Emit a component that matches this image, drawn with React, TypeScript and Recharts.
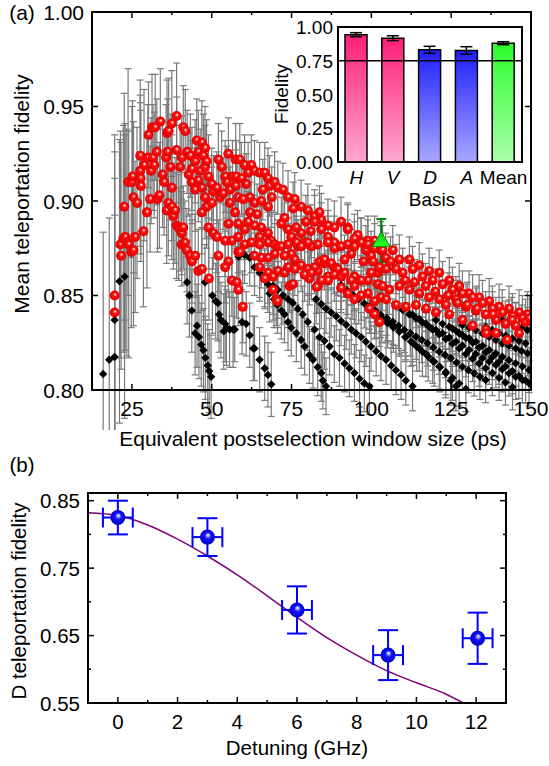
import React from 'react';
import {
  ScatterChart,
  Scatter,
  XAxis,
  YAxis,
  ErrorBar,
  BarChart,
  Bar,
  Cell,
  ReferenceLine,
  ComposedChart,
  Line,
} from 'recharts';

const FONT = '"Liberation Sans", Arial, sans-serif';

// ---- panel (a): red spheres, grouped by window size, with the error read for each group
const redFar = [[19.6, 0.850], [19.6, 0.841]];
const redA = [[21.4, 0.877], [21.6, 0.871], [22.3, 0.880], [22.6, 0.897], [22.9, 0.881], [23.4, 0.878], [23.8, 0.910], [24.0, 0.877]];
const redB = [
  [24.8, 0.873], [25.0, 0.910], [25.2, 0.913], [25.5, 0.902], [25.5, 0.874], [26.0, 0.881], [26.6, 0.899],
  [27.6, 0.924], [27.6, 0.916], [27.7, 0.912], [27.8, 0.908], [28.6, 0.884], [28.8, 0.919], [29.7, 0.894],
];
const redC = [
  [30.0, 0.923], [30.2, 0.935], [30.7, 0.901], [31.0, 0.916], [31.3, 0.939], [31.6, 0.923], [32.0, 0.919],
  [32.3, 0.939], [32.8, 0.926], [33.0, 0.901], [33.6, 0.903], [33.9, 0.942], [34.6, 0.914], [35.1, 0.910],
  [35.7, 0.923], [35.9, 0.895], [36.0, 0.936], [36.2, 0.926], [36.4, 0.899], [36.5, 0.937], [37.0, 0.918],
  [37.5, 0.907], [37.5, 0.941], [37.5, 0.897], [38.0, 0.892], [38.5, 0.895], [39.0, 0.945], [39.0, 0.887],
  [39.0, 0.927], [39.6, 0.886],
];
const redD = [
  [40.1, 0.885], [40.1, 0.918], [40.6, 0.923], [40.6, 0.883], [40.6, 0.877], [41.1, 0.939], [41.1, 0.886],
  [41.6, 0.878], [41.7, 0.937], [42.2, 0.874], [42.3, 0.926], [42.8, 0.914], [43.2, 0.871], [43.3, 0.924],
  [43.8, 0.917], [43.8, 0.910], [43.8, 0.868], [44.8, 0.906], [44.8, 0.921], [44.8, 0.871], [45.3, 0.932],
  [45.8, 0.926], [45.8, 0.911], [45.8, 0.863], [46.4, 0.916], [46.9, 0.931], [46.9, 0.907], [46.9, 0.894],
  [46.9, 0.864], [47.4, 0.924], [47.9, 0.928], [47.9, 0.902], [47.9, 0.918], [48.4, 0.921], [48.4, 0.897],
  [49.0, 0.913], [49.0, 0.886], [49.1, 0.859],
];
const redE = [
  [50.0, 0.909], [50.0, 0.899], [50.5, 0.905], [50.5, 0.883], [51.6, 0.881], [51.6, 0.907], [52.1, 0.922],
  [52.1, 0.871], [52.6, 0.902], [53.1, 0.918], [53.6, 0.904], [54.2, 0.913], [54.2, 0.879], [54.2, 0.865],
  [54.7, 0.910], [55.2, 0.925], [55.2, 0.888], [55.2, 0.868], [55.7, 0.906], [55.7, 0.899], [56.3, 0.879],
  [56.3, 0.858], [56.5, 0.913], [57.3, 0.894], [57.5, 0.922], [57.5, 0.908], [57.7, 0.913], [57.8, 0.857],
  [58.2, 0.902], [58.3, 0.888], [58.3, 0.881], [58.3, 0.853], [58.3, 0.873], [58.8, 0.922], [59.3, 0.912],
  [59.7, 0.844], [59.8, 0.901], [58.8, 0.873],
];
const redF = [
  [60.3, 0.919], [61.4, 0.915], [60.8, 0.909], [62.4, 0.919], [63.4, 0.916], [65.0, 0.915], [66.6, 0.915],
  [67.6, 0.912], [68.1, 0.908], [69.7, 0.910], [61.9, 0.902], [63.4, 0.899], [65.5, 0.900], [67.6, 0.897],
  [61.4, 0.889], [60.3, 0.885], [63.4, 0.887], [65.5, 0.886], [65.0, 0.881], [67.6, 0.883], [68.6, 0.879],
  [69.7, 0.872], [60.3, 0.877], [62.4, 0.878], [65.0, 0.877], [67.6, 0.878], [69.7, 0.877], [63.4, 0.871],
  [65.5, 0.870], [67.6, 0.870], [65.0, 0.865], [67.6, 0.862], [66.6, 0.859], [69.2, 0.860], [69.2, 0.853],
  [64.2, 0.893], [62.0, 0.894], [66.0, 0.906], [68.8, 0.902],
];
const redG = [
  [70.7, 0.907], [72.3, 0.906], [73.9, 0.902], [76.0, 0.901], [78.0, 0.897], [80.1, 0.895], [82.2, 0.892],
  [84.3, 0.890], [86.4, 0.887], [88.4, 0.886], [70.7, 0.876], [71.8, 0.888], [72.8, 0.891], [73.9, 0.885],
  [74.9, 0.881], [76.5, 0.886], [78.0, 0.883], [79.1, 0.878], [81.2, 0.876], [77.0, 0.876], [74.9, 0.872],
  [72.8, 0.871], [82.2, 0.889], [84.3, 0.885], [86.4, 0.881], [88.4, 0.878], [85.3, 0.867], [83.2, 0.863],
  [86.4, 0.860], [88.4, 0.865], [71.8, 0.876], [73.9, 0.877], [76.5, 0.878], [78.0, 0.876], [80.1, 0.878],
  [83.2, 0.877], [86.4, 0.878], [88.4, 0.875], [70.7, 0.863], [72.8, 0.862], [73.9, 0.865], [76.0, 0.869],
  [78.0, 0.866], [80.1, 0.864], [82.2, 0.865], [83.8, 0.868], [85.3, 0.869], [87.4, 0.867], [89.5, 0.864],
  [88.4, 0.861], [86.4, 0.858], [83.2, 0.855], [80.6, 0.859], [79.1, 0.861], [76.0, 0.864], [74.4, 0.855],
  [75.4, 0.856], [70.2, 0.848], [84.3, 0.858], [81.2, 0.862], [82.8, 0.8545], [70.6, 0.847], [83.75, 0.894],
  [75.5, 0.896], [79.5, 0.889], [81.0, 0.884],
];
const redH = [
  [90.5, 0.889], [92.6, 0.886], [95.7, 0.882], [98.9, 0.879], [92.6, 0.885], [94.7, 0.880], [96.8, 0.878],
  [98.3, 0.874], [99.9, 0.871], [93.7, 0.872], [91.6, 0.869], [90.5, 0.860], [94.7, 0.860], [98.9, 0.858],
  [102.0, 0.862], [103.0, 0.874], [101.0, 0.879], [90.5, 0.876], [92.6, 0.877], [94.7, 0.876], [96.8, 0.878],
  [98.9, 0.877], [101.0, 0.875], [103.0, 0.876], [91.6, 0.862], [93.7, 0.858], [90.5, 0.854], [92.6, 0.851],
  [94.7, 0.848], [96.8, 0.850], [98.9, 0.851], [101.0, 0.847], [103.0, 0.849], [99.4, 0.843], [101.0, 0.840],
  [102.5, 0.836], [94.7, 0.855], [96.8, 0.858], [99.9, 0.862], [102.0, 0.856], [103.0, 0.864], [103.5, 0.874],
  [106.7, 0.874], [108.75, 0.869], [102.5, 0.865], [104.6, 0.864], [107.7, 0.864], [109.8, 0.862],
  [103.5, 0.855], [105.6, 0.853], [108.75, 0.855], [104.6, 0.848], [107.7, 0.845], [104.5, 0.870],
  [106.0, 0.868], [97.5, 0.868], [100.5, 0.868],
];
const redI = [
  [111.9, 0.869], [115.0, 0.866], [118.1, 0.863], [121.25, 0.862], [124.4, 0.858], [127.5, 0.855],
  [130.6, 0.851], [133.75, 0.849], [136.9, 0.847], [140.0, 0.844], [143.1, 0.843], [146.25, 0.841],
  [148.9, 0.840], [112.9, 0.864], [116.0, 0.860], [119.2, 0.858], [122.3, 0.856], [125.4, 0.853],
  [128.5, 0.851], [131.7, 0.849], [134.8, 0.846], [137.9, 0.843], [141.0, 0.841], [144.2, 0.839],
  [147.3, 0.838], [111.9, 0.853], [115.0, 0.851], [118.1, 0.849], [121.25, 0.848], [123.3, 0.845],
  [126.5, 0.848], [129.6, 0.844], [132.7, 0.842], [135.8, 0.840], [139.0, 0.837], [142.0, 0.835],
  [145.2, 0.834], [148.3, 0.836], [110.8, 0.844], [114.0, 0.845], [117.1, 0.843], [120.2, 0.841],
  [124.4, 0.840], [128.5, 0.837], [131.7, 0.834], [135.8, 0.832], [139.0, 0.830], [146.25, 0.830],
  [142.5, 0.8265], [136.0, 0.830], [113.5, 0.857], [117.0, 0.855], [120.0, 0.852], [124.0, 0.850],
  [127.0, 0.846], [130.0, 0.845], [133.0, 0.843], [138.0, 0.840], [144.0, 0.837], [149.5, 0.838],
  [110.5, 0.858],
];
const redGroups: [number[][], number][] = [
  [redFar, 0.085], [redA, 0.06], [redB, 0.04], [redC, 0.028], [redD, 0.022],
  [redE, 0.019], [redF, 0.016], [redG, 0.014], [redH, 0.013], [redI, 0.012],
];

// ---- panel (a): black diamonds, one array per diagonal run
const blk1 = [[16.0, 0.8085], [17.9, 0.816], [19.6, 0.8175], [19.6, 0.837], [21.1, 0.8575], [22.7, 0.860]];
const blk2 = [[42.3, 0.857], [43.0, 0.850], [43.75, 0.842], [44.8, 0.830], [45.4, 0.834], [46.0, 0.828], [46.7, 0.824], [47.4, 0.821], [48.0, 0.817], [48.75, 0.813], [49.2, 0.810], [49.8, 0.807]];
const blk3 = [[47.9, 0.857], [50.2, 0.850], [51.25, 0.847], [51.9, 0.846], [52.3, 0.840], [52.9, 0.837], [53.75, 0.831], [54.2, 0.835], [54.6, 0.833], [55.6, 0.832], [56.7, 0.832]];
const blk4 = [[57.2, 0.832], [59.5, 0.836], [60.8, 0.835], [61.9, 0.829], [63.4, 0.822], [63.0, 0.822], [65.0, 0.816], [66.6, 0.8115], [67.6, 0.808], [68.65, 0.803]];
const blk5 = [
  [58.4, 0.8705], [60.3, 0.8714], [61.9, 0.870], [63.4, 0.865], [65.0, 0.862], [66.6, 0.859], [67.6, 0.856],
  [69.2, 0.855], [70.7, 0.853], [72.3, 0.850], [73.9, 0.848], [75.4, 0.846], [77.0, 0.843], [78.5, 0.840],
  [80.1, 0.836], [82.2, 0.832], [83.75, 0.828], [85.3, 0.826], [86.9, 0.823], [88.4, 0.819], [90.0, 0.817],
  [91.6, 0.814], [93.1, 0.8115], [94.7, 0.809], [96.3, 0.806], [97.8, 0.8035], [99.4, 0.802],
];
const blk6 = [
  [68.1, 0.851], [69.5, 0.848], [70.6, 0.845], [71.8, 0.842], [72.8, 0.840], [73.9, 0.836], [74.9, 0.833],
  [76.5, 0.830], [78.0, 0.8265], [79.1, 0.823], [80.6, 0.8185], [81.7, 0.816], [83.2, 0.812], [84.3, 0.809],
  [84.8, 0.805], [85.8, 0.802],
];
const blk7 = [
  [82.7, 0.848], [84.3, 0.8455], [85.8, 0.843], [87.4, 0.841], [89.0, 0.839], [90.5, 0.8365], [92.1, 0.8345],
  [93.7, 0.832], [95.2, 0.830], [96.8, 0.828], [98.3, 0.8255], [99.9, 0.823], [101.5, 0.8205], [103.0, 0.818],
  [104.6, 0.816], [106.2, 0.813], [107.7, 0.8105], [109.3, 0.808], [110.8, 0.805], [112.9, 0.802],
];
const blk8 = [
  [90.5, 0.8556], [92.3, 0.853], [94.2, 0.8503], [96.0, 0.848], [97.8, 0.8458], [99.6, 0.843], [101.5, 0.8406],
  [103.3, 0.838], [105.1, 0.8353], [106.9, 0.833], [108.75, 0.8309], [110.6, 0.828], [112.4, 0.8256],
  [114.2, 0.823], [116.0, 0.8203], [117.8, 0.8177], [119.7, 0.815], [121.5, 0.812], [123.3, 0.8088],
  [124.9, 0.805], [126.5, 0.802],
];
const blk9 = [
  [99.4, 0.8441], [101.2, 0.842], [103.0, 0.8397], [104.9, 0.838], [106.7, 0.8362], [108.5, 0.834],
  [110.3, 0.8318], [112.2, 0.830], [114.0, 0.8282], [115.8, 0.8265], [117.6, 0.8247], [119.4, 0.8225],
  [121.25, 0.8203], [123.1, 0.8185], [124.9, 0.8168], [126.7, 0.8145], [128.5, 0.8123], [130.4, 0.8105],
  [132.2, 0.8088], [134.0, 0.807], [135.8, 0.8053],
];
const blk10 = [
  [109.8, 0.8423], [111.9, 0.840], [114.0, 0.8379], [116.0, 0.8357], [118.1, 0.8335], [120.2, 0.8318],
  [122.3, 0.830], [124.4, 0.8278], [126.5, 0.8256], [128.5, 0.8234], [130.6, 0.8212], [132.7, 0.819],
  [134.8, 0.8168], [136.9, 0.815], [139.0, 0.8132], [141.0, 0.811], [143.1, 0.8088], [145.2, 0.807],
  [147.3, 0.8053], [149.4, 0.8035],
];
const blk11 = [
  [120.2, 0.837], [122.3, 0.835], [124.4, 0.8335], [126.5, 0.8313], [128.5, 0.8291], [130.6, 0.8274],
  [132.7, 0.8256], [134.8, 0.8234], [136.9, 0.8212], [139.0, 0.8194], [141.0, 0.8176], [143.1, 0.8158],
  [145.2, 0.8141], [147.3, 0.8124], [149.4, 0.8106],
];
const blk12 = [
  [128.5, 0.8344], [130.6, 0.833], [132.7, 0.8317], [134.8, 0.830], [136.9, 0.8282], [139.0, 0.8265],
  [141.0, 0.8247], [143.1, 0.8234], [145.2, 0.822], [147.0, 0.8207], [148.9, 0.8194],
];
const blk13 = [[135.8, 0.8335], [137.9, 0.8318], [140.0, 0.830], [142.1, 0.8287], [144.2, 0.8273], [146.2, 0.826], [148.3, 0.8247]];
const blk14 = [[141.0, 0.837], [143.1, 0.8357], [145.2, 0.8344], [147.0, 0.833], [148.9, 0.8317]];
const blk15 = [
  [104.6, 0.837], [106.7, 0.834], [108.75, 0.831], [110.8, 0.828], [112.9, 0.825], [115.0, 0.822],
  [117.1, 0.819], [119.2, 0.8155], [121.25, 0.8125], [123.3, 0.8095], [125.4, 0.8065], [127.5, 0.8035],
  [129.6, 0.8005],
];
const blk16 = [
  [112.9, 0.8398], [115.0, 0.8375], [117.1, 0.835], [119.2, 0.832], [121.25, 0.8295], [123.3, 0.827],
  [125.4, 0.8245], [127.5, 0.822], [129.6, 0.819], [131.7, 0.8165], [133.75, 0.814], [135.8, 0.8115],
  [137.9, 0.809], [140.0, 0.8065], [142.0, 0.804], [144.2, 0.8015],
];
const blk17 = [
  [125.4, 0.8325], [127.5, 0.830], [129.6, 0.8275], [131.7, 0.825], [133.75, 0.8225], [135.8, 0.820],
  [137.9, 0.8175], [140.0, 0.815], [142.0, 0.8125], [144.2, 0.810], [146.2, 0.8075], [148.3, 0.805],
];
const blkGroups: [number[][], number][] = [
  [blk1, 0.075], [blk2, 0.022], [blk3, 0.02], [blk4, 0.017], [blk5, 0.015], [blk6, 0.015],
  [blk7, 0.013], [blk8, 0.013], [blk9, 0.012], [blk10, 0.012], [blk11, 0.012], [blk12, 0.012],
  [blk13, 0.012], [blk14, 0.012], [blk15, 0.012], [blk16, 0.012], [blk17, 0.012],
];

// green triangle (measured point)
const greenPoint = [{ x: 103.1, y: 0.879, err: 0.0115 }];

const xTicksA = [25, 37.5, 50, 62.5, 75, 87.5, 100, 112.5, 125, 137.5, 150];
const yTicksA = [0.8, 0.85, 0.9, 0.95, 1.0];

// ---- inset
const basisLabels = ['H', 'V', 'D', 'A', 'Mean'];
const basisFidelity = [0.943, 0.917, 0.831, 0.826, 0.88];
const basisErr = [0.015, 0.018, 0.026, 0.028, 0.011];
const basisFill = ['url(#gPink)', 'url(#gPink)', 'url(#gBlue)', 'url(#gBlue)', 'url(#gGreen)'];
const insetTicks = [0, 0.25, 0.5, 0.75, 1.0];

// ---- panel (b)
const detuning = [0, 3, 6, 9.05, 12.05];
const dFidelity = [0.825, 0.796, 0.688, 0.621, 0.646];
const dFidErr = [0.025, 0.028, 0.035, 0.037, 0.038];
const detErr = [0.5, 0.5, 0.5, 0.5, 0.5];
const fitX = [-1, 0, 1, 2, 3, 4, 5, 6, 7, 8, 9, 10, 11, 11.55];
const fitY = [0.832, 0.828, 0.814, 0.793, 0.768, 0.74, 0.709, 0.677, 0.647, 0.621, 0.598, 0.58, 0.563, 0.5505];
const xTicksB = [-1, 0, 1, 2, 3, 4, 5, 6, 7, 8, 9, 10, 11, 12, 13];
const yTicksB = [0.55, 0.6, 0.65, 0.7, 0.75, 0.8, 0.85];

const toRows = (groups: [number[][], number][]) =>
  groups.flatMap(([pts, err]) => pts.map(([x, y]) => ({ x, y, err })));

const redRows = toRows(redGroups);
const blkRows = toRows(blkGroups);
const errRows = [...blkRows, ...redRows];
const insetRows = basisLabels.map((b, i) => ({ basis: b, fid: basisFidelity[i], err: basisErr[i] }));
const bRows = detuning.map((x, i) => ({ x, y: dFidelity[i], yerr: dFidErr[i], xerr: detErr[i] }));
const fitRows = fitX.map((x, i) => ({ x, y: fitY[i] }));

// plot box of panel (a) (chart svg sits at page 0,0)
const A = { left: 92, right: 531, top: 12, bottom: 390 };
// plot box of panel (b) in its own svg (svg placed at page top 470)
const B_TOP = 470;
const B = { left: 88, right: 506, top: 23, bottom: 233 };

const txtA = { fontFamily: FONT, fontSize: 21, fill: '#000' };
const txtB = { fontFamily: FONT, fontSize: 20.5, fill: '#000' };
const txtI = { fontFamily: FONT, fontSize: 19, fill: '#000' };

const XTickA = (p: any) => {
  const v = p.payload.value;
  const major = v % 25 === 0;
  const len = major ? 6 : 3;
  return (
    <g>
      <line x1={p.x} x2={p.x} y1={A.bottom} y2={A.bottom - len} stroke="#000" strokeWidth={1.5} />
      <line x1={p.x} x2={p.x} y1={A.top} y2={A.top + len} stroke="#000" strokeWidth={1.5} />
      {major && (
        <text x={p.x} y={A.bottom + 26} textAnchor="middle" {...txtA}>
          {v}
        </text>
      )}
    </g>
  );
};

const YTickA = (p: any) => {
  const v = p.payload.value;
  return (
    <g>
      <line x1={A.left} x2={A.left + 6} y1={p.y} y2={p.y} stroke="#000" strokeWidth={1.5} />
      <line x1={A.right} x2={A.right - 6} y1={p.y} y2={p.y} stroke="#000" strokeWidth={1.5} />
      <text x={A.left - 8} y={p.y + 7.5} textAnchor="end" {...txtA}>
        {v.toFixed(2)}
      </text>
    </g>
  );
};

const XTickB = (p: any) => {
  const v = p.payload.value;
  const major = v % 2 === 0;
  const len = major ? 6 : 3;
  return (
    <g>
      <line x1={p.x} x2={p.x} y1={B.bottom} y2={B.bottom - len} stroke="#000" strokeWidth={1.5} />
      <line x1={p.x} x2={p.x} y1={B.top} y2={B.top + len} stroke="#000" strokeWidth={1.5} />
      {major && (
        <text x={p.x} y={B.bottom + 26} textAnchor="middle" {...txtB}>
          {v}
        </text>
      )}
    </g>
  );
};

const YTickB = (p: any) => {
  const v = p.payload.value;
  const major = Math.round(v * 100) % 10 === 5;
  const len = major ? 6 : 3;
  return (
    <g>
      <line x1={B.left} x2={B.left + len} y1={p.y} y2={p.y} stroke="#000" strokeWidth={1.5} />
      <line x1={B.right} x2={B.right - len} y1={p.y} y2={p.y} stroke="#000" strokeWidth={1.5} />
      {major && (
        <text x={B.left - 8} y={p.y + 7.5} textAnchor="end" {...txtB}>
          {v.toFixed(2)}
        </text>
      )}
    </g>
  );
};

const InsetXTick = (p: any) => {
  const v = p.payload.value;
  return (
    <text x={p.x} y={p.y + 22} textAnchor="middle" {...txtI} fontStyle={v === 'Mean' ? 'normal' : 'italic'}>
      {v}
    </text>
  );
};

const InsetYTick = (p: any) => (
  <text x={p.x - 5} y={p.y + 7} textAnchor="end" {...txtI}>
    {p.payload.value.toFixed(2)}
  </text>
);

const RedBall = (p: any) => <circle cx={p.cx} cy={p.cy} r={5} fill="url(#gRedBall)" />;
const BlueBall = (p: any) => <circle cx={p.cx} cy={p.cy} r={7.5} fill="url(#gBlueBall)" />;
const Diamond = (p: any) => (
  <polygon
    points={`${p.cx},${p.cy - 4.2} ${p.cx + 4.2},${p.cy} ${p.cx},${p.cy + 4.2} ${p.cx - 4.2},${p.cy}`}
    fill="#000"
  />
);
const Triangle = (p: any) => (
  <polygon
    points={`${p.cx},${p.cy - 9} ${p.cx + 9},${p.cy + 6} ${p.cx - 9},${p.cy + 6}`}
    fill="url(#gTri)"
    stroke="#009000"
    strokeWidth={1}
  />
);
const Nothing = () => <g />;

const Label = ({ x, y, children, rotate, size = 21 }: any) => (
  <div
    style={{
      position: 'absolute',
      left: x,
      top: y,
      transform: `translate(-50%, -50%)${rotate ? ' rotate(-90deg)' : ''}`,
      whiteSpace: 'nowrap',
      fontFamily: FONT,
      fontSize: size,
      lineHeight: 1,
      color: '#000',
    }}
  >
    {children}
  </div>
);

const Frame = ({ l, t, r, b, w = 2 }: any) => (
  <div
    style={{
      position: 'absolute',
      left: l - w / 2,
      top: t - w / 2,
      width: r - l + w,
      height: b - t + w,
      border: `${w}px solid #000`,
      boxSizing: 'border-box',
      pointerEvents: 'none',
    }}
  />
);

export default function App() {
  return (
    <div style={{ position: 'relative', width: 549, height: 766, background: '#fff', overflow: 'hidden' }}>
      <style>{'body{margin:0}'}</style>
      <svg width="0" height="0" style={{ position: 'absolute' }}>
        <defs>
          <radialGradient id="gRedBall" cx="0.5" cy="0.5" r="0.5" fx="0.56" fy="0.36">
            <stop offset="0" stopColor="#ffffff" />
            <stop offset="0.14" stopColor="#ffb4b4" />
            <stop offset="0.38" stopColor="#ff1010" />
            <stop offset="1" stopColor="#e00000" />
          </radialGradient>
          <radialGradient id="gBlueBall" cx="0.5" cy="0.5" r="0.5" fx="0.55" fy="0.35">
            <stop offset="0" stopColor="#ffffff" />
            <stop offset="0.16" stopColor="#b0b0ff" />
            <stop offset="0.42" stopColor="#1414ff" />
            <stop offset="1" stopColor="#0000c0" />
          </radialGradient>
          <linearGradient id="gTri" x1="0" y1="0" x2="0" y2="1">
            <stop offset="0" stopColor="#00d000" />
            <stop offset="1" stopColor="#30ff30" />
          </linearGradient>
          <linearGradient id="gPink" x1="0" y1="0" x2="0" y2="1">
            <stop offset="0" stopColor="#ff1f78" />
            <stop offset="1" stopColor="#ffa8cf" />
          </linearGradient>
          <linearGradient id="gBlue" x1="0" y1="0" x2="0" y2="1">
            <stop offset="0" stopColor="#1f1fff" />
            <stop offset="1" stopColor="#a8a8ff" />
          </linearGradient>
          <linearGradient id="gGreen" x1="0" y1="0" x2="0" y2="1">
            <stop offset="0" stopColor="#2bff2b" />
            <stop offset="1" stopColor="#aaffaa" />
          </linearGradient>
        </defs>
      </svg>

      {/* panel (a) */}
      <div style={{ position: 'absolute', left: 0, top: 0 }}>
        <ScatterChart width={549} height={430} margin={{ top: 12, right: 18, bottom: 10, left: 42 }}>
          <XAxis
            type="number"
            dataKey="x"
            domain={[12.5, 150]}
            ticks={xTicksA}
            interval={0}
            allowDataOverflow
            height={30}
            axisLine={false}
            tickLine={false}
            tickSize={0}
            tickMargin={0}
            tick={XTickA}
          />
          <YAxis
            type="number"
            dataKey="y"
            domain={[0.8, 1.0]}
            ticks={yTicksA}
            interval={0}
            allowDataOverflow
            width={50}
            axisLine={false}
            tickLine={false}
            tickSize={0}
            tickMargin={0}
            tick={YTickA}
          />
          <Scatter data={errRows} shape={Nothing} isAnimationActive={false}>
            <ErrorBar dataKey="err" direction="y" width={3.5} stroke="#7a7a7a" strokeWidth={1.2} />
          </Scatter>
          <Scatter data={blkRows} shape={Diamond} isAnimationActive={false} />
          <Scatter data={redRows} shape={RedBall} isAnimationActive={false} />
          <Scatter data={greenPoint} shape={Triangle} isAnimationActive={false}>
            <ErrorBar dataKey="err" direction="y" width={5} stroke="#008000" strokeWidth={2} />
          </Scatter>
        </ScatterChart>
      </div>
      <Frame l={A.left} t={A.top} r={A.right} b={A.bottom} />

      {/* inset */}
      <div style={{ position: 'absolute', left: 270, top: 15 }}>
        <BarChart width={265} height={200} data={insetRows} margin={{ top: 12, right: 13, bottom: 23, left: 8 }}>
          <XAxis
            dataKey="basis"
            height={30}
            axisLine={false}
            tickLine={false}
            tickSize={0}
            tickMargin={0}
            interval={0}
            tick={InsetXTick}
          />
          <YAxis
            type="number"
            domain={[0, 1]}
            ticks={insetTicks}
            interval={0}
            width={60}
            axisLine={false}
            tickLine={false}
            tickSize={0}
            tickMargin={0}
            tick={InsetYTick}
          />
          <Bar dataKey="fid" barSize={22} stroke="#000" strokeWidth={1.5} isAnimationActive={false}>
            {insetRows.map((r, i) => (
              <Cell key={r.basis} fill={basisFill[i]} />
            ))}
            <ErrorBar dataKey="err" width={6} stroke="#000" strokeWidth={1.5} />
          </Bar>
          <ReferenceLine y={0.75} stroke="#000" strokeWidth={1.5} />
        </BarChart>
      </div>
      <Frame l={338} t={27} r={522} b={162} />

      {/* panel (b) */}
      <div style={{ position: 'absolute', left: 0, top: B_TOP }}>
        <ComposedChart width={549} height={296} margin={{ top: B.top, right: 549 - B.right, bottom: 296 - B.bottom - 30, left: B.left - 50 }}>
          <XAxis
            type="number"
            dataKey="x"
            domain={[-1, 13]}
            ticks={xTicksB}
            interval={0}
            allowDataOverflow
            height={30}
            axisLine={false}
            tickLine={false}
            tickSize={0}
            tickMargin={0}
            tick={XTickB}
          />
          <YAxis
            type="number"
            domain={[0.55, 0.8614]}
            ticks={yTicksB}
            interval={0}
            allowDataOverflow
            width={50}
            axisLine={false}
            tickLine={false}
            tickSize={0}
            tickMargin={0}
            tick={YTickB}
          />
          <Line
            data={fitRows}
            dataKey="y"
            type="monotone"
            stroke="#800080"
            strokeWidth={1.5}
            dot={false}
            isAnimationActive={false}
          />
          <Scatter data={bRows} dataKey="y" shape={BlueBall} isAnimationActive={false}>
            <ErrorBar dataKey="yerr" direction="y" width={10} stroke="#0000ff" strokeWidth={2} />
            <ErrorBar dataKey="xerr" direction="x" width={10} stroke="#0000ff" strokeWidth={2} />
          </Scatter>
        </ComposedChart>
      </div>
      <Frame l={B.left} t={B_TOP + B.top} r={B.right} b={B_TOP + B.bottom} />

      <Label x={22} y={12}>(a)</Label>
      <Label x={21} y={194} rotate>Mean teleportation fidelity</Label>
      <Label x={313} y={438}>Equivalent postselection window size (ps)</Label>
      <Label x={281} y={94} rotate size={19}>Fidelity</Label>
      <Label x={432} y={199} size={19}>Basis</Label>
      <Label x={22} y={465} size={20.5}>(b)</Label>
      <Label x={19} y={601} rotate size={20.5}>D teleportation fidelity</Label>
      <Label x={297} y={748} size={20.5}>Detuning (GHz)</Label>
    </div>
  );
}
